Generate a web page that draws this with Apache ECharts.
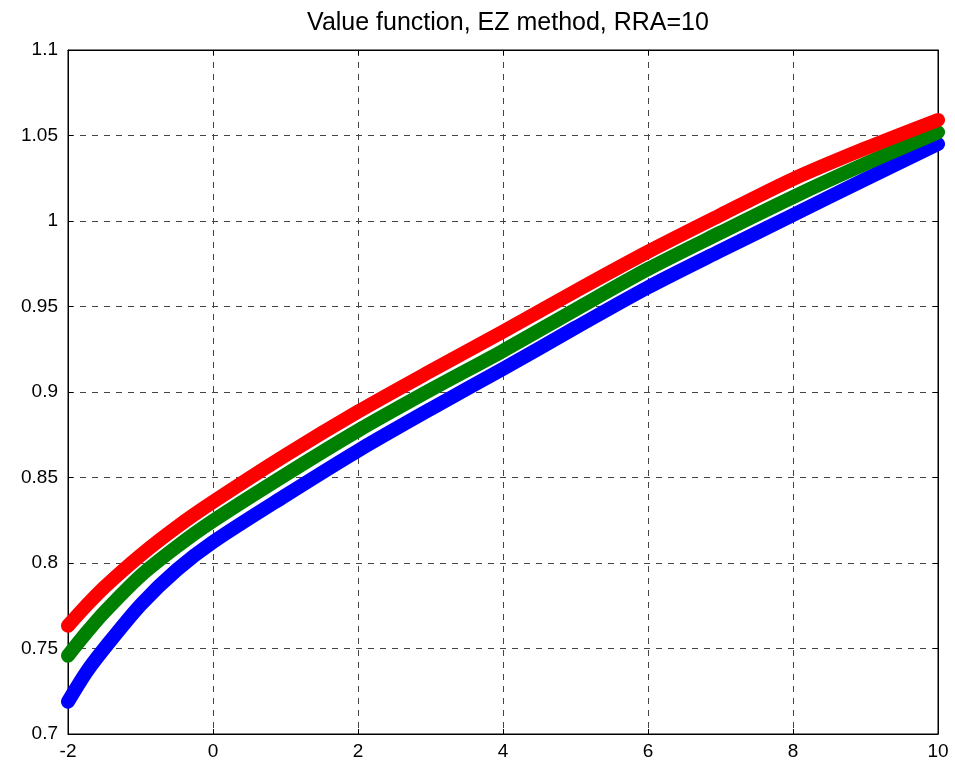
<!DOCTYPE html>
<html>
<head>
<meta charset="utf-8">
<script src="https://cdn.jsdelivr.net/npm/echarts@6/dist/echarts.min.js"></script>
<style>html,body{margin:0;padding:0;background:#fff;}#c{width:955px;height:772px;}</style>
</head>
<body>
<div id="c"></div>
<script>
const titleText = "Value function, EZ method, RRA=10";
const xValues = [-2, -1.75, -1.5, -1, -0.5, 0, 1, 2, 3, 4, 5, 6, 7, 8, 9, 10];
const redValues   = [0.7633, 0.7750, 0.7858, 0.8045, 0.8210, 0.8357, 0.8630, 0.8885, 0.9122, 0.9353, 0.9590, 0.9820, 1.0035, 1.0245, 1.0425, 1.0591];
const greenValues = [0.7458, 0.7590, 0.7712, 0.7925, 0.8095, 0.8246, 0.8516, 0.8774, 0.9012, 0.9241, 0.9482, 0.9719, 0.9932, 1.0140, 1.0335, 1.0519];
const blueValues  = [0.7189, 0.7360, 0.7500, 0.7755, 0.7960, 0.8123, 0.8395, 0.8657, 0.8900, 0.9135, 0.9376, 0.9612, 0.9826, 1.0035, 1.0245, 1.0450];
const xTicks = {min: -2, max: 10, interval: 2};
const yTicks = {min: 0.7, max: 1.1, interval: 0.05};

const pair = (ys) => xValues.map((x, i) => [x, ys[i]]);
const font = "'Liberation Sans', Arial, sans-serif";
const split = {show: true, lineStyle: {color: '#444', type: [6, 6], width: 1}};
const tick = {show: true, inside: true, length: 5, lineStyle: {color: '#000'}};
const axisLine = {show: true, onZero: false, lineStyle: {color: '#000'}};

const chart = echarts.init(document.getElementById('c'), null, {renderer: 'canvas'});
const mk = (name, ys, color) => ({
  name, type: 'line', data: pair(ys), smooth: 0.3, showSymbol: false, clip: false,
  lineStyle: {color, width: 14, cap: 'round', join: 'round'}, itemStyle: {color},
  animation: false
});
chart.setOption({
  animation: false,
  backgroundColor: '#fff',
  title: {text: titleText, left: 503, top: 6, textAlign: 'center',
    textStyle: {fontFamily: font, fontSize: 25, fontWeight: 'normal', color: '#000'}},
  grid: {left: 68, right: 17, top: 50, bottom: 38, show: true, borderColor: '#000', borderWidth: 1, backgroundColor: 'transparent'},
  xAxis: [
    {type: 'value', min: xTicks.min, max: xTicks.max, interval: xTicks.interval, position: 'bottom',
     axisLine, axisTick: tick, splitLine: split,
     axisLabel: {color: '#000', fontFamily: font, fontSize: 19, margin: 8}},
    {type: 'value', min: xTicks.min, max: xTicks.max, interval: xTicks.interval, position: 'top',
     axisLine, axisTick: tick, splitLine: {show: false}, axisLabel: {show: false}}
  ],
  yAxis: [
    {type: 'value', min: yTicks.min, max: yTicks.max, interval: yTicks.interval, position: 'left',
     axisLine, axisTick: tick, splitLine: split,
     axisLabel: {color: '#000', fontFamily: font, fontSize: 19, margin: 10,
       formatter: v => String(+v.toFixed(2))}},
    {type: 'value', min: yTicks.min, max: yTicks.max, interval: yTicks.interval, position: 'right',
     axisLine, axisTick: tick, splitLine: {show: false}, axisLabel: {show: false}}
  ],
  series: [
    mk('blue', blueValues, '#0000ff'),
    mk('green', greenValues, '#008000'),
    mk('red', redValues, '#ff0000')
  ]
});
</script>
</body>
</html>
